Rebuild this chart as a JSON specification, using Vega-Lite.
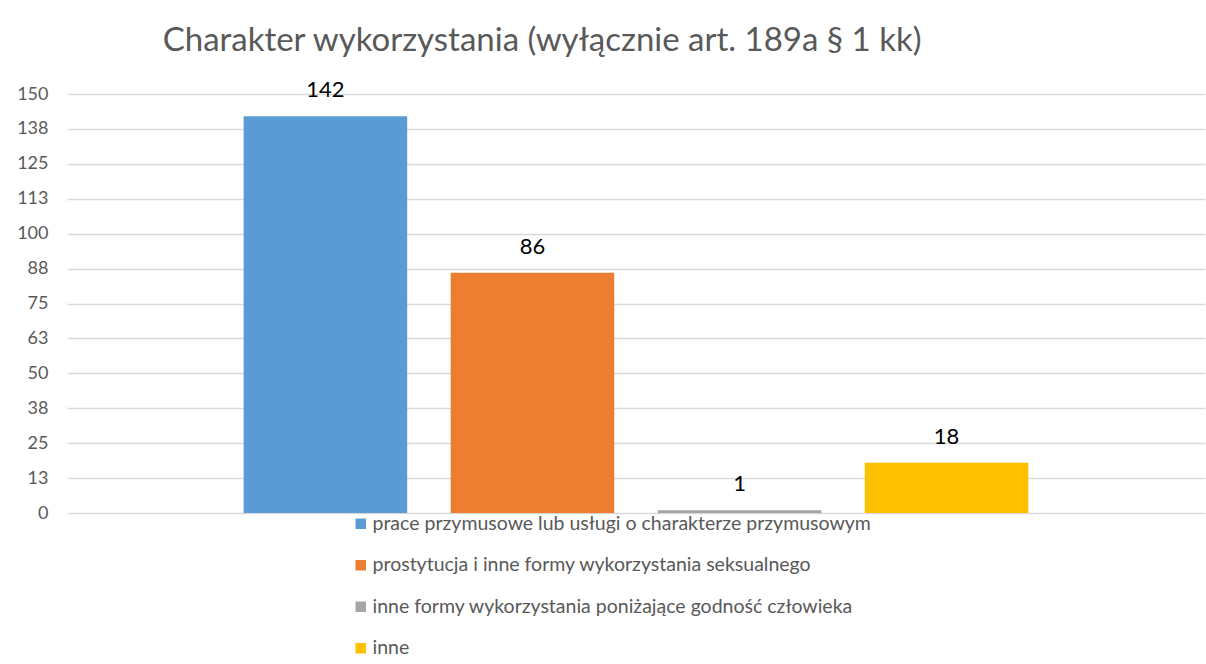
{
  "$schema": "https://vega.github.io/schema/vega-lite/v6.json",
  "width": 1138,
  "height": 419,
  "autosize": {"type": "none"},
  "padding": {"left": 67, "top": 94, "right": 1, "bottom": 151},
  "background": "white",
  "title": {
    "text": "Charakter wykorzystania (wyłącznie art. 189a § 1 kk)",
    "anchor": "start",
    "dx": 146,
    "offset": 21,
    "font": "Lato",
    "fontSize": 33,
    "fontWeight": "normal",
    "color": "#595959"
  },
  "data": {
    "values": [
      {"kategoria": "prace przymusowe lub usługi o charakterze przymusowym", "liczba": 142},
      {"kategoria": "prostytucja i inne formy wykorzystania seksualnego", "liczba": 86},
      {"kategoria": "inne formy wykorzystania poniżające godność człowieka", "liczba": 1},
      {"kategoria": "inne", "liczba": 18}
    ]
  },
  "config": {
    "view": {"stroke": null},
    "font": "Lato"
  },
  "encoding": {
    "x": {
      "field": "kategoria",
      "type": "nominal",
      "sort": null,
      "axis": null,
      "scale": {"paddingInner": 0.21, "paddingOuter": 0.853}
    },
    "y": {
      "field": "liczba",
      "type": "quantitative",
      "scale": {"domain": [0, 150], "nice": false},
      "axis": {
        "title": null,
        "values": [0, 12.5, 25, 37.5, 50, 62.5, 75, 87.5, 100, 112.5, 125, 137.5, 150],
        "labelExpr": "round(datum.value)",
        "domain": false,
        "ticks": false,
        "labelPadding": 19,
        "labelFontSize": 18,
        "labelColor": "#595959",
        "labelFont": "Lato",
        "gridColor": "#d9d9d9",
        "gridWidth": 1.5
      }
    }
  },
  "layer": [
    {
      "mark": {"type": "bar"},
      "encoding": {
        "color": {
          "field": "kategoria",
          "type": "nominal",
          "scale": {
            "domain": [
              "prace przymusowe lub usługi o charakterze przymusowym",
              "prostytucja i inne formy wykorzystania seksualnego",
              "inne formy wykorzystania poniżające godność człowieka",
              "inne"
            ],
            "range": ["#5b9bd5", "#ed7d31", "#a5a5a5", "#ffc000"]
          },
          "legend": {
            "title": null,
            "orient": "none",
            "legendX": 284,
            "legendY": 420,
            "direction": "vertical",
            "symbolType": "square",
            "symbolSize": 110,
            "symbolStrokeWidth": 0,
            "labelFontSize": 19.5,
            "labelFont": "Lato",
            "labelColor": "#595959",
            "labelOffset": 2,
            "rowPadding": 20.5,
            "labelLimit": 700
          }
        }
      }
    },
    {
      "mark": {"type": "text", "baseline": "alphabetic", "dy": -19, "fontSize": 22, "color": "#000000", "font": "Lato"},
      "encoding": {
        "text": {"field": "liczba", "type": "quantitative"}
      }
    }
  ]
}
